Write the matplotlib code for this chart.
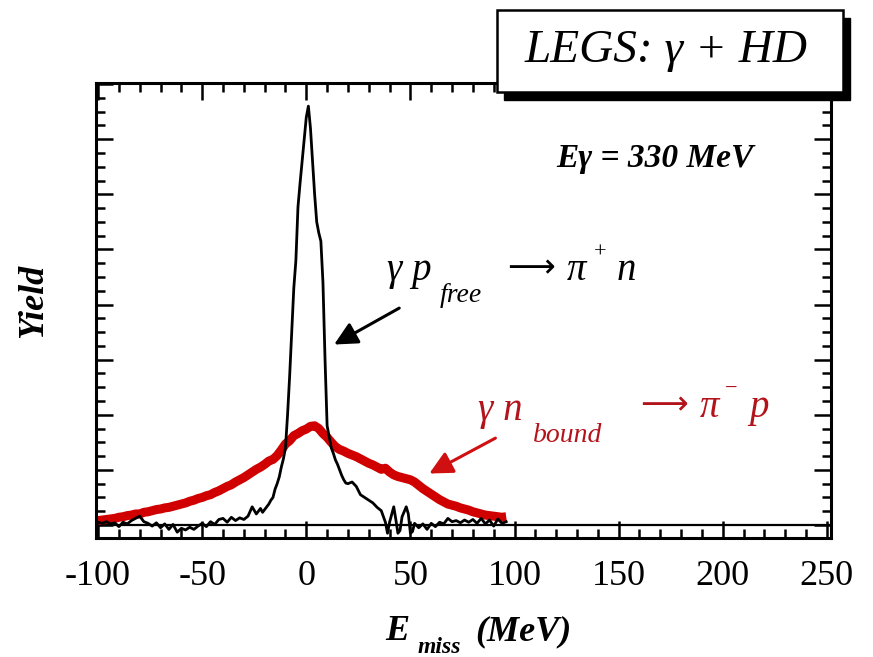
import matplotlib
matplotlib.use('Agg')
import matplotlib.pyplot as plt
from matplotlib.patches import Rectangle, FancyArrowPatch
from matplotlib.ticker import MultipleLocator

# ---------------- data ----------------
free_x = [-100, -98, -96, -94, -92, -90, -88, -86, -84, -82, -80, -78, -76, -74, -72,
          -70, -68, -66, -64, -62, -60, -58, -56, -54, -52, -50, -48, -46, -44, -42,
          -40, -38, -36, -34, -32, -30, -28, -26, -24, -22,
          -21, -20, -19, -18, -17, -16, -15, -14, -13, -12, -11, -10, -9, -8, -7, -6,
          -5, -4, -3, -2, -1, 0, 1, 2, 3, 4, 5, 6, 7, 8, 9, 10, 11, 12, 13, 14, 15,
          16, 17, 18, 19, 20,
          22, 24, 26, 28, 30, 32, 34, 36, 38, 39, 40, 42, 43, 44, 45, 46, 48, 49, 50,
          51, 52, 54, 56, 58, 60, 62, 64, 66, 68, 70, 72, 74, 76, 78, 80, 82, 84, 86,
          88, 90, 92, 94, 96]
free_y = [0.5, 0.3, 0.6, 0.2, 0.4, -0.3, 0.5, 0.2, 0.8, 1.2, 1.6, 0.6, 0.3, -0.2, 0.4,
          -0.5, 0.2, -0.8, 0.1, -1.3, -0.6, -0.9, -0.4, -0.8, -0.2, 0.3, -0.3, 0.6, 0.1, 1.0,
          1.2, 0.5, 1.4, 0.8, 1.3, 1.0, 1.6, 3.3, 2.0, 3.0,
          2.3, 2.8, 3.3, 3.8, 4.5, 5.0, 6.5, 7.5, 8.7, 10.5, 12.0, 14.0, 20.0, 27.0, 35.0, 43.0,
          48.0, 57.7, 62.0, 66.0, 70.0, 74.0, 76.0, 72.0, 66.0, 60.0, 55.0, 53.0, 51.5, 44.0,
          30.0, 18.0, 16.0, 14.0, 13.0, 11.8, 11.0, 10.0, 9.0, 8.2, 7.6, 7.5,
          7.8, 7.0, 5.5, 5.0, 4.5, 4.0, 3.2, 2.6, 0.5, -1.5, 0.5, 3.3, 1.0, -1.5, -1.0,
          1.5, 3.3, 2.0, -1.5, -1.2, 0.3, -0.5, 0.2, -0.8, 0.3, -0.3, 0.5, 0.2, 1.2, 0.6,
          0.8, 0.4, 0.9, 0.5, 1.0, 0.3, 1.2, 0.2, 0.9, -0.2, 1.1, 0.3, 0.6]

bound_x = [-100, -98, -96, -94, -92, -90, -88, -86, -84, -82, -80, -78, -76, -74, -72,
           -70, -68, -66, -64, -62, -60, -58, -56, -54, -52, -50, -48, -46, -44, -42,
           -40, -38, -36, -34, -32, -30, -28, -26, -24, -22, -20, -18, -16, -14, -12,
           -10, -8, -6, -4, -2, 0, 2, 4, 6, 8, 10, 12, 14, 16, 18, 20, 22, 24, 26, 28,
           30, 32, 34, 36, 38, 40, 42, 44, 46, 48, 50, 52, 54, 56, 58, 60, 62, 64, 66,
           68, 70, 72, 74, 76, 78, 80, 82, 84, 86, 88, 90, 92, 94, 96]
bound_y = [0.8, 0.9, 1.0, 1.1, 1.2, 1.4, 1.5, 1.7, 1.8, 2.0, 2.0, 2.3, 2.4, 2.6, 2.8,
           2.9, 3.1, 3.2, 3.4, 3.6, 3.8, 4.0, 4.3, 4.5, 4.8, 5.0, 5.3, 5.5, 5.9, 6.2,
           6.6, 7.0, 7.3, 7.8, 8.2, 8.6, 9.1, 9.6, 10.1, 10.5, 11.0, 11.6, 11.9, 12.6, 13.6,
           14.7, 15.3, 16.2, 16.6, 17.1, 17.4, 17.9, 18.0, 17.5, 16.6, 15.9, 15.0, 14.2,
           13.7, 13.4, 13.0, 12.7, 12.4, 12.0, 11.6, 11.2, 10.9, 10.5, 10.1, 10.3, 9.6, 9.1,
           8.8, 8.6, 8.4, 8.2, 7.8, 7.2, 6.6, 6.1, 5.6, 5.1, 4.6, 4.2, 3.8, 3.6, 3.4, 3.1,
           2.9, 2.7, 2.4, 2.2, 2.0, 1.8, 1.7, 1.6, 1.5, 1.4, 1.5]

x_ticks = [-100, -50, 0, 50, 100, 150, 200, 250]
x_tick_labels = ['-100', '-50', '0', '50', '100', '150', '200', '250']

# ---------------- figure ----------------
W, H = 873, 657
SERIF = ['Liberation Serif', 'DejaVu Serif']
plt.rcParams['font.family'] = SERIF
fig = plt.figure(figsize=(W / 100, H / 100), dpi=100)
ax = fig.add_axes([96 / W, 1 - 538 / H, (831 - 96) / W, (538 - 83) / H])

ax.plot(bound_x, bound_y, color='#d00000', lw=6.5, solid_joinstyle='round',
        solid_capstyle='butt', zorder=2)
ax.plot(free_x, free_y, color='black', lw=2.0, zorder=3)
ax.axhline(0, color='black', lw=1.6, zorder=1)

ax.set_xlim(-101, 252)
ax.set_ylim(-2.36, 80.2)
ax.set_xticks(x_ticks)
ax.set_xticklabels(x_tick_labels, fontsize=26)
ax.xaxis.set_minor_locator(MultipleLocator(10))
ax.yaxis.set_major_locator(MultipleLocator(10))
ax.yaxis.set_minor_locator(MultipleLocator(2.5))
ax.tick_params(which='both', direction='in', top=True, right=True, labelleft=False, width=1.8)
ax.tick_params(which='major', length=12, pad=16)
ax.tick_params(which='minor', length=6.5)
for sp in ax.spines.values():
    sp.set_linewidth(2.2)


def ftext(px, py, s, **kw):
    return fig.text(px / W, 1 - py / H, s, **kw)


# title box with shadow
fig.add_artist(Rectangle((504 / W, 1 - 100 / H), (850 - 504) / W, (100 - 18) / H,
                         transform=fig.transFigure, facecolor='black', edgecolor='black', zorder=10))
fig.add_artist(Rectangle((497 / W, 1 - 92 / H), (843 - 497) / W, (92 - 10) / H,
                         transform=fig.transFigure, facecolor='white', edgecolor='black',
                         lw=1.8, zorder=11))
ftext(666, 51, 'LEGS: γ + HD', size=34, style='italic', ha='center', va='center', zorder=12)

ftext(556, 167, 'Eγ = 330 MeV', size=24, style='italic', weight='bold', ha='left', va='baseline')

ARROW_FONT = ['DejaVu Sans']

# black reaction label
blk = dict(color='black', va='baseline', ha='left')
ftext(387, 280, 'γ p', size=28, style='italic', **blk)
ftext(440, 302, 'free', size=20, style='italic', **blk)
ftext(507, 277, '⟶', size=24, family=ARROW_FONT, **blk)
ftext(567, 280, 'π', size=28, style='italic', **blk)
ftext(594, 258, '+', size=16, **blk)
ftext(617, 280, 'n', size=28, style='italic', **blk)

# red reaction label
RED_T = '#b3141c'
red = dict(color=RED_T, va='baseline', ha='left')
ftext(478, 420, 'γ n', size=28, style='italic', **red)
ftext(533, 442, 'bound', size=20, style='italic', **red)
ftext(640, 414, '⟶', size=24, family=ARROW_FONT, **red)
ftext(700, 417, 'π', size=28, style='italic', **red)
ftext(725, 394, '−', size=16, **red)
ftext(749, 417, 'p', size=28, style='italic', **red)

# arrows pointing to curves (data coordinates)
ax.add_patch(FancyArrowPatch((45.8, 39.6), (12.2, 32.5), arrowstyle='-|>,head_length=0.7,head_width=0.35',
                             mutation_scale=20, lw=2.2, color='black', zorder=4))
ax.add_patch(FancyArrowPatch((92.0, 16.0), (57.9, 9.1), arrowstyle='-|>,head_length=0.7,head_width=0.35',
                             mutation_scale=20, lw=2.2, color='#d01010', zorder=4))

# axis labels
ftext(34, 301, 'Yield', size=26, style='italic', weight='bold', rotation=90, ha='center', va='center')
ftext(385, 640, 'E', size=26, style='italic', weight='bold', ha='left', va='baseline')
ftext(418, 653, 'miss', size=17, style='italic', weight='bold', ha='left', va='baseline')
ftext(475, 640, '(MeV)', size=26, style='italic', weight='bold', ha='left', va='baseline')

fig.savefig('out.png', dpi=100)
